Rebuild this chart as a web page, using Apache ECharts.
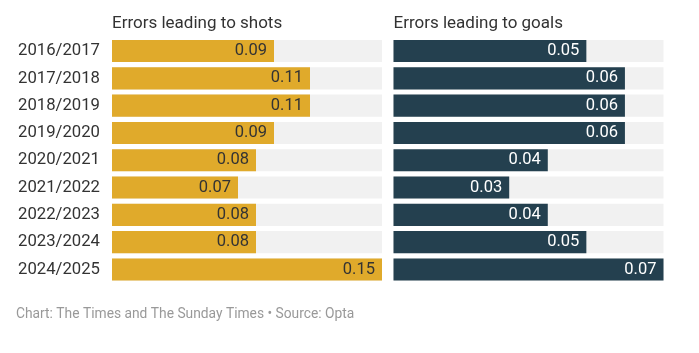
<!DOCTYPE html>
<html>
<head>
<meta charset="utf-8">
<script src="https://cdn.jsdelivr.net/npm/echarts@6/dist/echarts.min.js"></script>
<style>
  html, body { margin: 0; padding: 0; background: #fff; }
  #main { width: 699px; height: 353px; }
</style>
</head>
<body>
<div id="main"></div>
<script>
// seasons, top to bottom
var seasons = ['2016/2017', '2017/2018', '2018/2019', '2019/2020', '2020/2021',
  '2021/2022', '2022/2023', '2023/2024', '2024/2025'];
// errors leading to shots (per game)
var shots = [0.09, 0.11, 0.11, 0.09, 0.08, 0.07, 0.08, 0.08, 0.15];
// errors leading to goals (per game)
var goals = [0.05, 0.06, 0.06, 0.06, 0.04, 0.03, 0.04, 0.05, 0.07];

var font = 'Roboto, "Noto Sans", sans-serif';

var chart = echarts.init(document.getElementById('main'));

var option = {
  animation: false,
  textStyle: { fontFamily: font },
  title: [
    {
      text: 'Errors leading to shots',
      left: 107, top: 10,
      textStyle: { fontSize: 17, fontWeight: 'normal', color: '#333', fontFamily: font }
    },
    {
      text: 'Errors leading to goals',
      left: 388.5, top: 10,
      textStyle: { fontSize: 17, fontWeight: 'normal', color: '#333', fontFamily: font }
    },
    {
      text: 'Chart: The Times and The Sunday Times \u2022 Source: Opta',
      left: 11, top: 303,
      textStyle: { fontSize: 13.8, fontWeight: 'normal', color: '#999', fontFamily: font }
    }
  ],
  grid: [
    { left: 112, width: 270, top: 37.4, height: 245.7 },
    { left: 393.5, width: 270, top: 37.4, height: 245.7 }
  ],
  xAxis: [
    { gridIndex: 0, type: 'value', min: 0, max: 0.15, show: false },
    { gridIndex: 1, type: 'value', min: 0, max: 0.07, show: false }
  ],
  yAxis: [
    {
      gridIndex: 0, type: 'category', data: seasons, inverse: true,
      axisLine: { show: false }, axisTick: { show: false },
      axisLabel: { fontSize: 16.7, color: '#333', margin: 12, fontFamily: font }
    },
    {
      gridIndex: 1, type: 'category', data: seasons, inverse: true,
      show: false
    }
  ],
  series: [
    {
      type: 'bar', xAxisIndex: 0, yAxisIndex: 0,
      data: shots,
      barCategoryGap: '19%',
      itemStyle: { color: '#E0AA2B' },
      showBackground: true,
      backgroundStyle: { color: '#F1F1F1' },
      label: {
        show: true, position: 'insideRight', distance: 7,
        fontSize: 16.5, color: '#333', fontFamily: font,
        formatter: function (p) { return p.value.toFixed(2); }
      }
    },
    {
      type: 'bar', xAxisIndex: 1, yAxisIndex: 1,
      data: goals,
      barCategoryGap: '19%',
      itemStyle: { color: '#24404F' },
      showBackground: true,
      backgroundStyle: { color: '#F1F1F1' },
      label: {
        show: true, position: 'insideRight', distance: 7,
        fontSize: 16.5, color: '#fff', fontFamily: font,
        formatter: function (p) { return p.value.toFixed(2); }
      }
    }
  ]
};

chart.setOption(option);
</script>
</body>
</html>
